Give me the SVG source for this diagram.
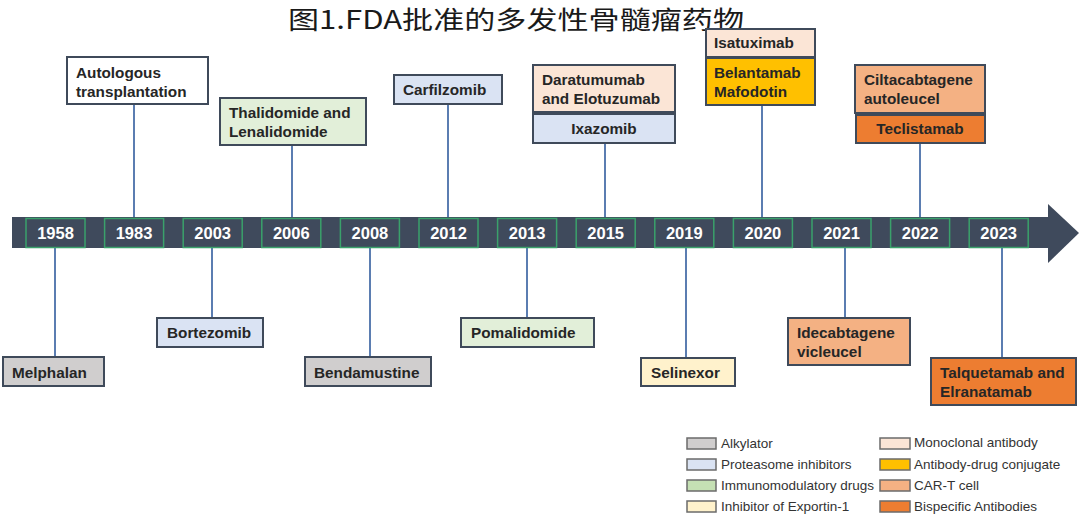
<svg xmlns="http://www.w3.org/2000/svg" width="1080" height="514" viewBox="0 0 1080 514">
<style>
.box{stroke:#3f4a5a;stroke-width:2}
.lbl{font-family:"Liberation Sans",Arial,sans-serif;font-weight:bold;font-size:15.3px;fill:#262626}
.yr{fill:#3f4a5c;stroke:#3aa16b;stroke-width:1.5}
.yt{font-family:"Liberation Sans",Arial,sans-serif;font-weight:bold;font-size:16.5px;fill:#ffffff;text-anchor:middle}
.lg{stroke:#6b6b6b;stroke-width:1.5}
.lt{font-family:"Liberation Sans",Arial,sans-serif;font-size:13.5px;fill:#333333}
.con{stroke:#5b7db1;stroke-width:2;fill:none}
.gray{fill:#d0cece}.blue{fill:#dae3f3}.green{fill:#e2efd9}.yel{fill:#fff2cc}.peach{fill:#fbe5d6}.gold{fill:#ffc000}.salmon{fill:#f4b183}.orange{fill:#ed7d31}
</style>
<rect width="1080" height="514" fill="#ffffff"/>
<text x="516" y="29" text-anchor="middle" font-family="'Noto Sans CJK SC',sans-serif" font-size="25" fill="#1a1a1a" textLength="456" lengthAdjust="spacingAndGlyphs">图1.FDA批准的多发性骨髓瘤药物</text>

<g id="connectors">
<line class="con" x1="134" y1="104" x2="134" y2="217"/>
<line class="con" x1="292" y1="145" x2="292" y2="217"/>
<line class="con" x1="448" y1="104" x2="448" y2="217"/>
<line class="con" x1="605" y1="143" x2="605" y2="217"/>
<line class="con" x1="762" y1="105" x2="762" y2="217"/>
<line class="con" x1="920" y1="143" x2="920" y2="217"/>
<line class="con" x1="55" y1="248" x2="55" y2="357"/>
<line class="con" x1="212" y1="248" x2="212" y2="318"/>
<line class="con" x1="370" y1="248" x2="370" y2="357"/>
<line class="con" x1="527" y1="248" x2="527" y2="318"/>
<line class="con" x1="686" y1="248" x2="686" y2="358"/>
<line class="con" x1="845" y1="248" x2="845" y2="318"/>
<line class="con" x1="1002" y1="248" x2="1002" y2="358"/>
</g>

<g id="timeline">
<rect x="12" y="217" width="1038" height="31" fill="#3f4a5c"/>
<polygon points="1048,204 1079,233 1048,263" fill="#3f4a5c"/>
<rect class="yr" x="26" y="218.5" width="59" height="29"/><text class="yt" x="55.5" y="239">1958</text>
<rect class="yr" x="104.6" y="218.5" width="59" height="29"/><text class="yt" x="134" y="239">1983</text>
<rect class="yr" x="183.2" y="218.5" width="59" height="29"/><text class="yt" x="212.7" y="239">2003</text>
<rect class="yr" x="261.8" y="218.5" width="59" height="29"/><text class="yt" x="291.3" y="239">2006</text>
<rect class="yr" x="340.4" y="218.5" width="59" height="29"/><text class="yt" x="369.9" y="239">2008</text>
<rect class="yr" x="419" y="218.5" width="59" height="29"/><text class="yt" x="448.5" y="239">2012</text>
<rect class="yr" x="497.6" y="218.5" width="59" height="29"/><text class="yt" x="527.1" y="239">2013</text>
<rect class="yr" x="576.2" y="218.5" width="59" height="29"/><text class="yt" x="605.7" y="239">2015</text>
<rect class="yr" x="654.8" y="218.5" width="59" height="29"/><text class="yt" x="684.3" y="239">2019</text>
<rect class="yr" x="733.4" y="218.5" width="59" height="29"/><text class="yt" x="762.9" y="239">2020</text>
<rect class="yr" x="812" y="218.5" width="59" height="29"/><text class="yt" x="841.5" y="239">2021</text>
<rect class="yr" x="890.6" y="218.5" width="59" height="29"/><text class="yt" x="920.1" y="239">2022</text>
<rect class="yr" x="969.2" y="218.5" width="59" height="29"/><text class="yt" x="998.7" y="239">2023</text>
</g>

<g id="autologous"><rect class="box" x="67" y="57" width="141" height="47" fill="#ffffff"/><text class="lbl" x="76" y="78">Autologous</text><text class="lbl" x="76" y="97">transplantation</text></g>
<g id="thalidomide"><rect class="box green" x="220" y="98" width="146" height="47"/><text class="lbl" x="229" y="118">Thalidomide and</text><text class="lbl" x="229" y="137">Lenalidomide</text></g>
<g id="carfilzomib"><rect class="box blue" x="394" y="75" width="108" height="29"/><text class="lbl" x="403" y="95">Carfilzomib</text></g>
<g id="daratumumab"><rect class="box peach" x="533" y="65" width="142" height="47"/><text class="lbl" x="542" y="85">Daratumumab</text><text class="lbl" x="542" y="104">and Elotuzumab</text></g>
<g id="ixazomib"><rect class="box blue" x="533" y="114" width="142" height="29"/><text class="lbl" x="604" y="134" text-anchor="middle">Ixazomib</text></g>
<g id="isatuximab"><rect class="box peach" x="706" y="29" width="109" height="28"/><text class="lbl" x="714" y="48">Isatuximab</text></g>
<g id="belantamab"><rect class="box gold" x="706" y="58" width="109" height="47"/><text class="lbl" x="714" y="78">Belantamab</text><text class="lbl" x="714" y="97">Mafodotin</text></g>
<g id="ciltacabtagene"><rect class="box salmon" x="855" y="65" width="130" height="48"/><text class="lbl" x="864" y="85">Ciltacabtagene</text><text class="lbl" x="864" y="104">autoleucel</text></g>
<g id="teclistamab"><rect class="box orange" x="856" y="115" width="129" height="28"/><text class="lbl" x="920" y="134" text-anchor="middle">Teclistamab</text></g>

<g id="melphalan"><rect class="box gray" x="3" y="357" width="101" height="29"/><text class="lbl" x="12" y="378">Melphalan</text></g>
<g id="bortezomib"><rect class="box blue" x="157" y="318" width="106" height="29"/><text class="lbl" x="167" y="338">Bortezomib</text></g>
<g id="bendamustine"><rect class="box gray" x="305" y="357" width="126" height="29"/><text class="lbl" x="314" y="378">Bendamustine</text></g>
<g id="pomalidomide"><rect class="box green" x="461" y="318" width="133" height="29"/><text class="lbl" x="471" y="338">Pomalidomide</text></g>
<g id="selinexor"><rect class="box yel" x="641" y="358" width="94" height="28"/><text class="lbl" x="651" y="378">Selinexor</text></g>
<g id="idecabtagene"><rect class="box salmon" x="788" y="318" width="122" height="47"/><text class="lbl" x="797" y="338">Idecabtagene</text><text class="lbl" x="797" y="357">vicleucel</text></g>
<g id="talquetamab"><rect class="box orange" x="931" y="358" width="145" height="47"/><text class="lbl" x="940" y="378">Talquetamab and</text><text class="lbl" x="940" y="397">Elranatamab</text></g>

<g id="legend">
<rect class="lg gray" x="687" y="438" width="29" height="11"/><text class="lt" x="721" y="448">Alkylator</text>
<rect class="lg blue" x="687" y="459" width="29" height="11"/><text class="lt" x="721" y="469">Proteasome inhibitors</text>
<rect class="lg" fill="#c5e0b4" x="687" y="480" width="29" height="11"/><text class="lt" x="721" y="490">Immunomodulatory drugs</text>
<rect class="lg yel" x="687" y="501" width="29" height="11"/><text class="lt" x="721" y="511">Inhibitor of Exportin-1</text>
<rect class="lg peach" x="880" y="438" width="30" height="11"/><text class="lt" x="914" y="447">Monoclonal antibody</text>
<rect class="lg gold" x="880" y="459" width="30" height="11"/><text class="lt" x="914" y="469">Antibody-drug conjugate</text>
<rect class="lg salmon" x="880" y="480" width="30" height="11"/><text class="lt" x="914" y="490">CAR-T cell</text>
<rect class="lg orange" x="880" y="501" width="30" height="11"/><text class="lt" x="914" y="511">Bispecific Antibodies</text>
</g>
</svg>
